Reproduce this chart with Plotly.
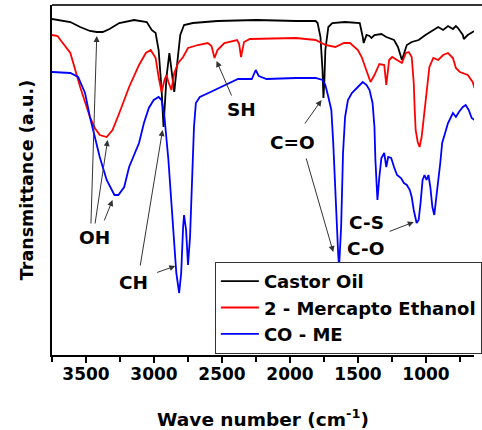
import plotly.graph_objects as go

# ---------------- data (wavenumber cm-1, transmittance a.u.) ----------------
castor_wn = [3750, 3615, 3543, 3471, 3421, 3377, 3327, 3255, 3146, 3053, 3017, 2988, 2966, 2944,
             2930, 2923, 2908, 2887, 2865, 2851, 2829, 2807, 2779, 2714, 2533, 2245, 1956, 1812,
             1797, 1776, 1761, 1754, 1747, 1740, 1718, 1689, 1595, 1487, 1465, 1458, 1437, 1415,
             1401, 1379, 1328, 1292, 1235, 1206, 1177, 1162, 1141, 1105, 1054, 1004, 968, 924,
             910, 874, 838, 802, 780, 765, 729, 722, 693, 657, 643]
castor_t = [336, 333, 328, 324, 323, 323, 326, 332, 335, 333, 325, 322, 305, 265,
            228, 245, 278, 302, 278, 263, 292, 320, 330, 332, 334, 335, 334, 334,
            332, 318, 285, 257, 275, 305, 328, 332, 333, 332, 318, 312, 320, 319,
            317, 320, 321, 318, 315, 308, 295, 302, 310, 313, 315, 320, 323, 327,
            328, 325, 329, 326, 329, 327, 320, 316, 320, 323, 324]

me_wn = [3750, 3709, 3688, 3615, 3543, 3471, 3435, 3399, 3348, 3305, 3255, 3183, 3110, 3060,
         3024, 2988, 2966, 2944, 2923, 2908, 2894, 2872, 2851, 2822, 2786, 2750, 2677, 2605,
         2577, 2555, 2533, 2483, 2389, 2374, 2360, 2338, 2295, 1956, 1812, 1740, 1667, 1603,
         1559, 1501, 1473, 1451, 1429, 1408, 1379, 1343, 1307, 1292, 1271, 1249, 1213, 1177,
         1148, 1127, 1105, 1090, 1083, 1076, 1061, 1047, 1032, 1018, 996, 975, 946, 910,
         874, 838, 802, 780, 751, 729, 693, 657, 643]
me_t = [320, 319, 315, 302, 268, 238, 227, 220, 218, 225, 242, 268, 290, 302,
        305, 297, 278, 263, 275, 280, 273, 265, 282, 292, 298, 307, 310, 312,
        309, 297, 305, 312, 315, 311, 298, 313, 316, 317, 315, 310, 308, 312,
        312, 305, 298, 290, 282, 273, 280, 291, 290, 270, 295, 298, 295, 292,
        302, 303, 298, 272, 245, 225, 213, 208, 218, 235, 258, 288, 297, 295,
        300, 302, 297, 287, 283, 282, 280, 273, 267]

come_wn = [3750, 3615, 3558, 3507, 3471, 3435, 3399, 3348, 3291, 3262, 3219, 3183, 3110, 3074,
           3038, 3002, 2966, 2944, 2923, 2894, 2872, 2851, 2836, 2815, 2800, 2786, 2779, 2764,
           2750, 2735, 2721, 2706, 2692, 2663, 2584, 2439, 2382, 2281, 2252, 2230, 2172, 1956,
           1812, 1761, 1740, 1718, 1696, 1682, 1667, 1653, 1646, 1639, 1624, 1610, 1595, 1574,
           1545, 1501, 1465, 1437, 1415, 1393, 1379, 1372, 1364, 1357, 1343, 1328, 1307, 1292,
           1278, 1256, 1235, 1213, 1184, 1162, 1141, 1119, 1105, 1090, 1069, 1054, 1040, 1025,
           1011, 996, 982, 968, 953, 939, 924, 910, 895, 881, 859, 838, 816, 802, 780, 758,
           729, 708, 686, 664, 643]
come_t = [283, 282, 278, 262, 238, 218, 198, 175, 160, 160, 168, 188, 212, 232,
          247, 255, 258, 255, 238, 195, 152, 112, 82, 62, 82, 128, 140, 125,
          90, 118, 178, 228, 252, 258, 263, 272, 276, 276, 285, 279, 276, 277,
          277, 275, 270, 258, 245, 212, 162, 128, 102, 88, 128, 202, 238, 255,
          262, 268, 273, 270, 265, 252, 228, 195, 162, 155, 178, 197, 202, 188,
          198, 197, 188, 180, 177, 172, 170, 165, 158, 145, 132, 135, 152, 175,
          180, 175, 180, 168, 148, 140, 158, 172, 192, 212, 222, 232, 238, 242, 238, 243,
          248, 250, 245, 237, 235]

series_names = ["Castor Oil", "2 - Mercapto Ethanol", "CO - ME"]
series_colors = ["#000000", "#ff0000", "#0000ff"]

x_ticks = [3500, 3000, 2500, 2000, 1500, 1000]

# peak labels: text, x, y
labels = [("OH", 3435, 118), ("CH", 3154, 73), ("SH", 2360, 246),
          ("C=O", 1985, 213), ("C-S", 1437, 133), ("C-O", 1444, 107)]
# arrows: tail x, tail y, head x, head y
arrows = [(3464, 130, 3421, 319), (3435, 130, 3341, 215), (3370, 133, 3305, 155),
          (3103, 88, 2937, 225), (2988, 82, 2843, 89),
          (2425, 258, 2540, 294),
          (1898, 230, 1768, 255), (1884, 198, 1682, 103),
          (1278, 123, 1090, 133)]

FONT = "DejaVu Sans, Arial, sans-serif"

fig = go.Figure()
for wn, t, name, col in zip([castor_wn, me_wn, come_wn], [castor_t, me_t, come_t],
                            series_names, series_colors):
    fig.add_trace(go.Scatter(x=wn, y=t, mode="lines", name=name,
                             line=dict(color=col, width=1.8)))

for txt, lx, ly in labels:
    fig.add_annotation(x=lx, y=ly, text=f"<b>{txt}</b>", showarrow=False,
                       font=dict(family=FONT, size=18.5, color="black"))
for tx, ty, hx, hy in arrows:
    fig.add_annotation(x=hx, y=hy, ax=tx, ay=ty, axref="x", ayref="y", text="",
                       showarrow=True, arrowhead=2, arrowsize=1.2, arrowwidth=1,
                       arrowcolor="#333333")

# top frame line
fig.add_shape(type="line", xref="paper", yref="paper", x0=0, x1=1.05, y0=1, y1=1,
              line=dict(color="#333333", width=2))

fig.update_layout(
    width=482, height=430,
    margin=dict(l=52, r=0, t=5, b=75),
    paper_bgcolor="white", plot_bgcolor="white",
    showlegend=True,
    legend=dict(x=0.386, y=0.266, xanchor="left", yanchor="top",
                bordercolor="#333333", borderwidth=1, bgcolor="white",
                font=dict(family=FONT, size=18, color="black", weight="bold"),
                itemwidth=38, tracegroupgap=0),
    xaxis=dict(range=[3750, 647], showgrid=False, zeroline=False, automargin=False,
               showline=True, linecolor="black", linewidth=2,
               ticks="outside", ticklen=6, tickwidth=1.5, tickcolor="black",
               tickvals=x_ticks, ticktext=[str(v) for v in x_ticks],
               ticklabelstandoff=-3,
               tickfont=dict(family=FONT, size=17, color="black", weight="bold"),
               minor=dict(dtick=250, tick0=3750, ticks="outside", ticklen=5, tickwidth=1.5,
                          tickcolor="black"),
               title=dict(text="<b>Wave number (cm<sup>-1</sup>)</b>",
                          font=dict(family=FONT, size=18.5, color="black"), standoff=30)),
    yaxis=dict(range=[0, 350], showgrid=False, zeroline=False, automargin=False,
               showline=True, linecolor="black", linewidth=2,
               ticks="", showticklabels=False,
               title=dict(text="<b>Transmittance (a.u.)</b>",
                          font=dict(family=FONT, size=17.5, color="black"), standoff=12)),
)

fig.write_html("out.html", config={"displayModeBar": False},
               post_script="document.body.style.margin='0';")
